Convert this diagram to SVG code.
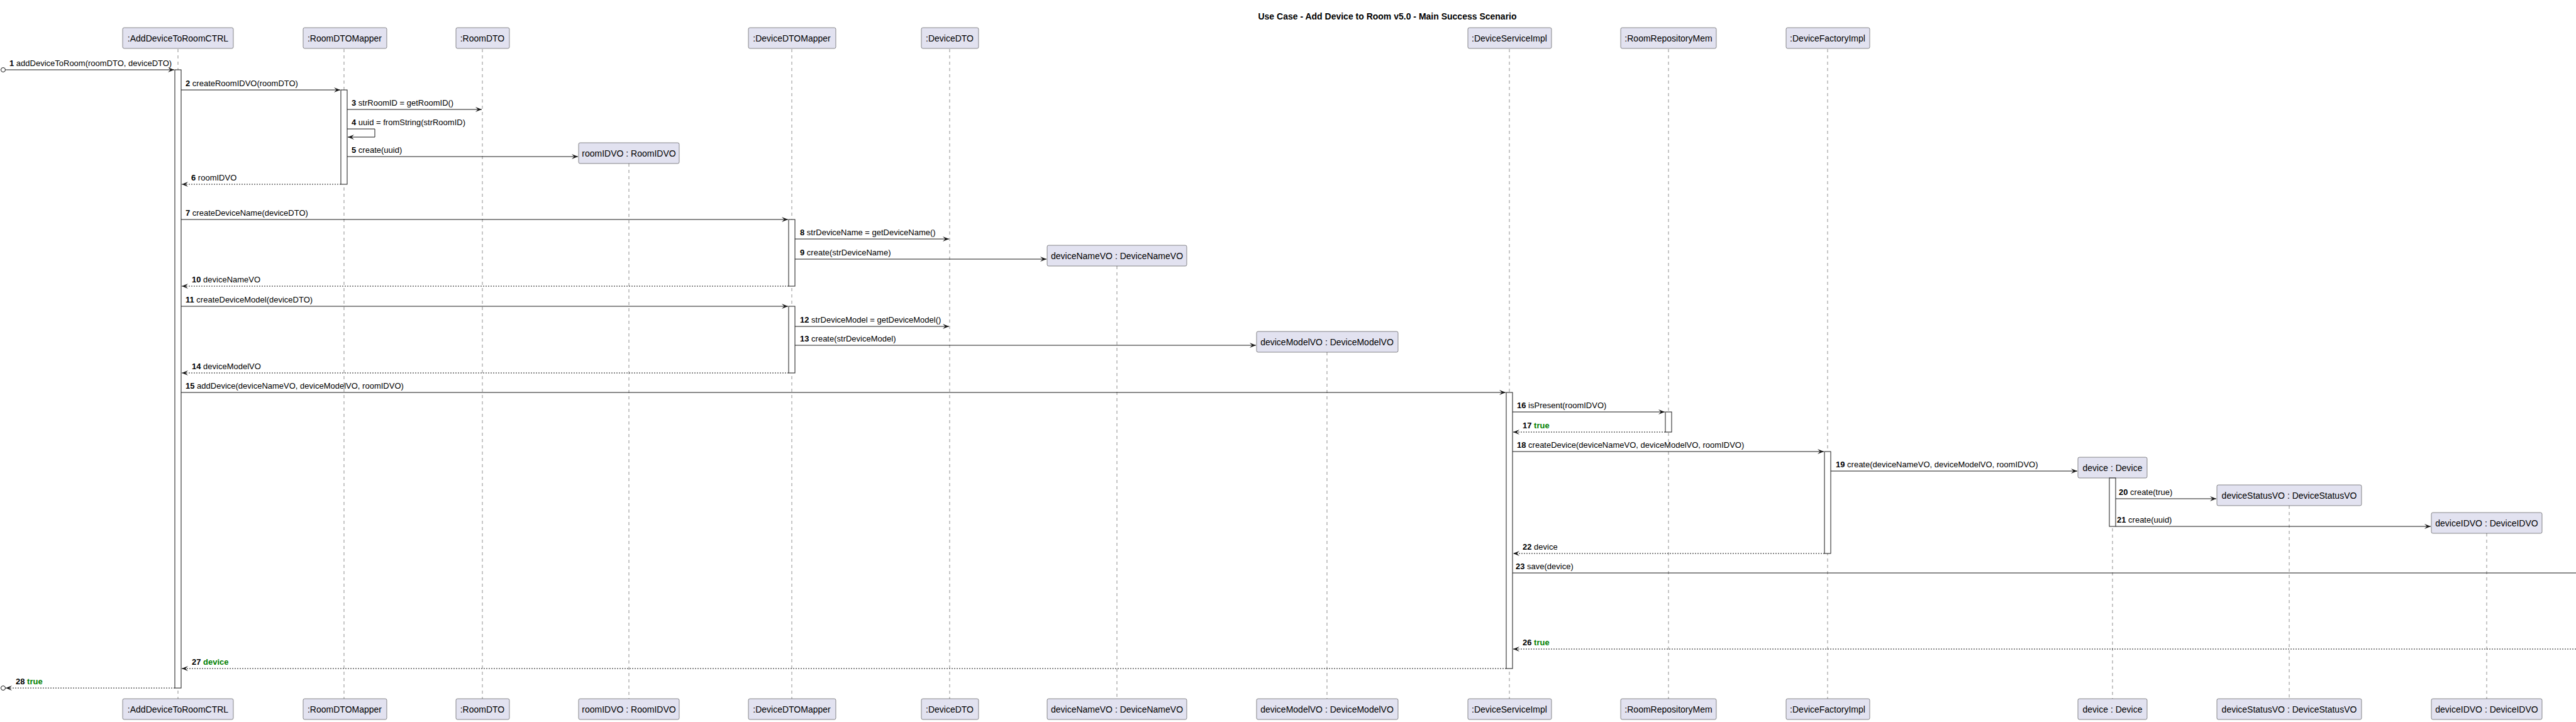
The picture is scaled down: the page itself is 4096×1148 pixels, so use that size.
<svg xmlns="http://www.w3.org/2000/svg" width="4096" height="1148" viewBox="0 0 4096 1148">
<style>
.bg{fill:#ffffff}
.pbox{fill:#E2E2F0;stroke:#181818;stroke-width:0.5}
.ptxt{font-family:"Liberation Sans",Arial,sans-serif;font-size:14px;fill:#000;text-anchor:middle}
.life{stroke:#181818;stroke-width:0.5;stroke-dasharray:5,5;fill:none}
.act{fill:#ffffff;stroke:#181818;stroke-width:1}
.msg{stroke:#181818;stroke-width:1;fill:none;marker-end:url(#ah)}
.ret{stroke:#181818;stroke-width:1;fill:none;stroke-dasharray:2,2;marker-end:url(#ah)}
.mtxt{font-family:"Liberation Sans",Arial,sans-serif;font-size:13px;fill:#000}
.num{font-weight:bold}
.grn{fill:#008000;font-weight:bold}
.title{font-family:"Liberation Sans",Arial,sans-serif;font-size:14px;font-weight:bold;text-anchor:middle;fill:#000}
</style>
<defs>
<marker id="ah" viewBox="0 0 10 8" markerWidth="10" markerHeight="8" refX="10" refY="4" orient="auto" markerUnits="userSpaceOnUse">
<path d="M0,0 L10,4 L0,8 L4,4 Z" fill="#181818"/>
</marker>
</defs>
<rect class="bg" x="0" y="0" width="4096" height="1148"/>
<text class="title" x="2206" y="31">Use Case - Add Device to Room v5.0 - Main Success Scenario</text>

<g id="lifelines">
<line class="life" x1="283" y1="78" x2="283" y2="1111"/>
<line class="life" x1="547" y1="78" x2="547" y2="1111"/>
<line class="life" x1="767" y1="78" x2="767" y2="1111"/>
<line class="life" x1="1000" y1="260" x2="1000" y2="1111"/>
<line class="life" x1="1259" y1="78" x2="1259" y2="1111"/>
<line class="life" x1="1510" y1="78" x2="1510" y2="1111"/>
<line class="life" x1="1776" y1="423" x2="1776" y2="1111"/>
<line class="life" x1="2110" y1="560" x2="2110" y2="1111"/>
<line class="life" x1="2400" y1="78" x2="2400" y2="1111"/>
<line class="life" x1="2653" y1="78" x2="2653" y2="1111"/>
<line class="life" x1="2906" y1="78" x2="2906" y2="1111"/>
<line class="life" x1="3359" y1="760" x2="3359" y2="1111"/>
<line class="life" x1="3640" y1="804" x2="3640" y2="1111"/>
<line class="life" x1="3954" y1="848" x2="3954" y2="1111"/>
</g>

<g id="p-ctrl">
<rect class="pbox" x="195" y="44" width="176" height="33" rx="2.5"/>
<text class="ptxt" x="283" y="66">:AddDeviceToRoomCTRL</text>
<rect class="pbox" x="195" y="1111" width="176" height="33" rx="2.5"/>
<text class="ptxt" x="283" y="1133">:AddDeviceToRoomCTRL</text>
</g>
<g id="p-roomdtomapper">
<rect class="pbox" x="482" y="44" width="133" height="33" rx="2.5"/>
<text class="ptxt" x="548" y="66">:RoomDTOMapper</text>
<rect class="pbox" x="482" y="1111" width="133" height="33" rx="2.5"/>
<text class="ptxt" x="548" y="1133">:RoomDTOMapper</text>
</g>
<g id="p-roomdto">
<rect class="pbox" x="725" y="44" width="85" height="33" rx="2.5"/>
<text class="ptxt" x="767" y="66">:RoomDTO</text>
<rect class="pbox" x="725" y="1111" width="85" height="33" rx="2.5"/>
<text class="ptxt" x="767" y="1133">:RoomDTO</text>
</g>
<g id="p-roomidvo">
<rect class="pbox" x="920" y="227" width="160" height="33" rx="2.5"/>
<text class="ptxt" x="1000" y="249">roomIDVO : RoomIDVO</text>
<rect class="pbox" x="920" y="1111" width="160" height="33" rx="2.5"/>
<text class="ptxt" x="1000" y="1133">roomIDVO : RoomIDVO</text>
</g>
<g id="p-devicedtomapper">
<rect class="pbox" x="1190" y="44" width="139" height="33" rx="2.5"/>
<text class="ptxt" x="1259" y="66">:DeviceDTOMapper</text>
<rect class="pbox" x="1190" y="1111" width="139" height="33" rx="2.5"/>
<text class="ptxt" x="1259" y="1133">:DeviceDTOMapper</text>
</g>
<g id="p-devicedto">
<rect class="pbox" x="1465" y="44" width="91" height="33" rx="2.5"/>
<text class="ptxt" x="1510" y="66">:DeviceDTO</text>
<rect class="pbox" x="1465" y="1111" width="91" height="33" rx="2.5"/>
<text class="ptxt" x="1510" y="1133">:DeviceDTO</text>
</g>
<g id="p-devicenamevo">
<rect class="pbox" x="1665" y="390" width="222" height="33" rx="2.5"/>
<text class="ptxt" x="1776" y="412">deviceNameVO : DeviceNameVO</text>
<rect class="pbox" x="1665" y="1111" width="222" height="33" rx="2.5"/>
<text class="ptxt" x="1776" y="1133">deviceNameVO : DeviceNameVO</text>
</g>
<g id="p-devicemodelvo">
<rect class="pbox" x="1998" y="527" width="225" height="33" rx="2.5"/>
<text class="ptxt" x="2110" y="549">deviceModelVO : DeviceModelVO</text>
<rect class="pbox" x="1998" y="1111" width="225" height="33" rx="2.5"/>
<text class="ptxt" x="2110" y="1133">deviceModelVO : DeviceModelVO</text>
</g>
<g id="p-deviceserviceimpl">
<rect class="pbox" x="2334" y="44" width="133" height="33" rx="2.5"/>
<text class="ptxt" x="2400" y="66">:DeviceServiceImpl</text>
<rect class="pbox" x="2334" y="1111" width="133" height="33" rx="2.5"/>
<text class="ptxt" x="2400" y="1133">:DeviceServiceImpl</text>
</g>
<g id="p-roomrepositorymem">
<rect class="pbox" x="2577" y="44" width="152" height="33" rx="2.5"/>
<text class="ptxt" x="2653" y="66">:RoomRepositoryMem</text>
<rect class="pbox" x="2577" y="1111" width="152" height="33" rx="2.5"/>
<text class="ptxt" x="2653" y="1133">:RoomRepositoryMem</text>
</g>
<g id="p-devicefactoryimpl">
<rect class="pbox" x="2840" y="44" width="133" height="33" rx="2.5"/>
<text class="ptxt" x="2906" y="66">:DeviceFactoryImpl</text>
<rect class="pbox" x="2840" y="1111" width="133" height="33" rx="2.5"/>
<text class="ptxt" x="2906" y="1133">:DeviceFactoryImpl</text>
</g>
<g id="p-device">
<rect class="pbox" x="3304" y="727" width="110" height="33" rx="2.5"/>
<text class="ptxt" x="3359" y="749">device : Device</text>
<rect class="pbox" x="3304" y="1111" width="110" height="33" rx="2.5"/>
<text class="ptxt" x="3359" y="1133">device : Device</text>
</g>
<g id="p-devicestatusvo">
<rect class="pbox" x="3525" y="771" width="230" height="33" rx="2.5"/>
<text class="ptxt" x="3640" y="793">deviceStatusVO : DeviceStatusVO</text>
<rect class="pbox" x="3525" y="1111" width="230" height="33" rx="2.5"/>
<text class="ptxt" x="3640" y="1133">deviceStatusVO : DeviceStatusVO</text>
</g>
<g id="p-deviceidvo">
<rect class="pbox" x="3866" y="815" width="176" height="33" rx="2.5"/>
<text class="ptxt" x="3954" y="837">deviceIDVO : DeviceIDVO</text>
<rect class="pbox" x="3866" y="1111" width="176" height="33" rx="2.5"/>
<text class="ptxt" x="3954" y="1133">deviceIDVO : DeviceIDVO</text>
</g>

<g id="activations">
<rect class="act" x="278" y="111" width="10" height="983"/>
<rect class="act" x="542" y="143" width="10" height="150"/>
<rect class="act" x="1254" y="349" width="10" height="106"/>
<rect class="act" x="1254" y="487" width="10" height="106"/>
<rect class="act" x="2395" y="624" width="10" height="439"/>
<rect class="act" x="2648" y="655" width="10" height="32"/>
<rect class="act" x="2901" y="718" width="10" height="162"/>
<rect class="act" x="3354" y="760" width="10" height="77"/>
</g>

<g id="connectors">
<circle cx="5" cy="111" r="3.5" fill="#fff" stroke="#181818" stroke-width="1"/>
<line class="msg" x1="9" y1="111" x2="277" y2="111"/>
<text class="mtxt" x="15" y="105"><tspan class="num">1</tspan> addDeviceToRoom(roomDTO, deviceDTO)</text>

<line class="msg" x1="288" y1="143" x2="541" y2="143"/>
<text class="mtxt" x="295" y="137"><tspan class="num">2</tspan> createRoomIDVO(roomDTO)</text>

<line class="msg" x1="552" y1="174" x2="766" y2="174"/>
<text class="mtxt" x="559" y="168"><tspan class="num">3</tspan> strRoomID = getRoomID()</text>

<polyline class="msg" points="552,205 596,205 596,218 553,218"/>
<text class="mtxt" x="559" y="199"><tspan class="num">4</tspan> uuid = fromString(strRoomID)</text>

<line class="msg" x1="552" y1="249" x2="919" y2="249"/>
<text class="mtxt" x="559" y="243"><tspan class="num">5</tspan> create(uuid)</text>

<line class="ret" x1="542" y1="293" x2="289" y2="293"/>
<text class="mtxt" x="304" y="287"><tspan class="num">6</tspan> roomIDVO</text>

<line class="msg" x1="288" y1="349" x2="1253" y2="349"/>
<text class="mtxt" x="295" y="343"><tspan class="num">7</tspan> createDeviceName(deviceDTO)</text>

<line class="msg" x1="1264" y1="380" x2="1509" y2="380"/>
<text class="mtxt" x="1272" y="374"><tspan class="num">8</tspan> strDeviceName = getDeviceName()</text>

<line class="msg" x1="1264" y1="412" x2="1664" y2="412"/>
<text class="mtxt" x="1272" y="406"><tspan class="num">9</tspan> create(strDeviceName)</text>

<line class="ret" x1="1254" y1="455" x2="289" y2="455"/>
<text class="mtxt" x="305" y="449"><tspan class="num">10</tspan> deviceNameVO</text>

<line class="msg" x1="288" y1="487" x2="1253" y2="487"/>
<text class="mtxt" x="295" y="481"><tspan class="num">11</tspan> createDeviceModel(deviceDTO)</text>

<line class="msg" x1="1264" y1="519" x2="1509" y2="519"/>
<text class="mtxt" x="1272" y="513"><tspan class="num">12</tspan> strDeviceModel = getDeviceModel()</text>

<line class="msg" x1="1264" y1="549" x2="1997" y2="549"/>
<text class="mtxt" x="1272" y="543"><tspan class="num">13</tspan> create(strDeviceModel)</text>

<line class="ret" x1="1254" y1="593" x2="289" y2="593"/>
<text class="mtxt" x="305" y="587"><tspan class="num">14</tspan> deviceModelVO</text>

<line class="msg" x1="288" y1="624" x2="2394" y2="624"/>
<text class="mtxt" x="295" y="618"><tspan class="num">15</tspan> addDevice(deviceNameVO, deviceModelVO, roomIDVO)</text>

<line class="msg" x1="2405" y1="655" x2="2647" y2="655"/>
<text class="mtxt" x="2412" y="649"><tspan class="num">16</tspan> isPresent(roomIDVO)</text>

<line class="ret" x1="2648" y1="687" x2="2406" y2="687"/>
<text class="mtxt" x="2421" y="681"><tspan class="num">17</tspan> <tspan class="grn">true</tspan></text>

<line class="msg" x1="2405" y1="718" x2="2900" y2="718"/>
<text class="mtxt" x="2412" y="712"><tspan class="num">18</tspan> createDevice(deviceNameVO, deviceModelVO, roomIDVO)</text>

<line class="msg" x1="2911" y1="749" x2="3303" y2="749"/>
<text class="mtxt" x="2919" y="743"><tspan class="num">19</tspan> create(deviceNameVO, deviceModelVO, roomIDVO)</text>

<line class="msg" x1="3364" y1="793" x2="3524" y2="793"/>
<text class="mtxt" x="3369" y="787"><tspan class="num">20</tspan> create(true)</text>

<line class="msg" x1="3364" y1="837" x2="3865" y2="837"/>
<text class="mtxt" x="3366" y="831"><tspan class="num">21</tspan> create(uuid)</text>

<line class="ret" x1="2901" y1="880" x2="2406" y2="880"/>
<text class="mtxt" x="2421" y="874"><tspan class="num">22</tspan> device</text>

<line x1="2405" y1="911" x2="4096" y2="911" stroke="#181818" stroke-width="1"/>
<text class="mtxt" x="2410" y="905"><tspan class="num">23</tspan> save(device)</text>

<line class="ret" x1="4096" y1="1032" x2="2406" y2="1032"/>
<text class="mtxt" x="2421" y="1026"><tspan class="num">26</tspan> <tspan class="grn">true</tspan></text>

<line class="ret" x1="2395" y1="1063" x2="289" y2="1063"/>
<text class="mtxt" x="305" y="1057"><tspan class="num">27</tspan> <tspan class="grn">device</tspan></text>

<circle cx="5" cy="1094" r="3.5" fill="#fff" stroke="#181818" stroke-width="1"/>
<line class="ret" x1="278" y1="1094" x2="9" y2="1094"/>
<text class="mtxt" x="25" y="1088"><tspan class="num">28</tspan> <tspan class="grn">true</tspan></text>
</g>
</svg>
